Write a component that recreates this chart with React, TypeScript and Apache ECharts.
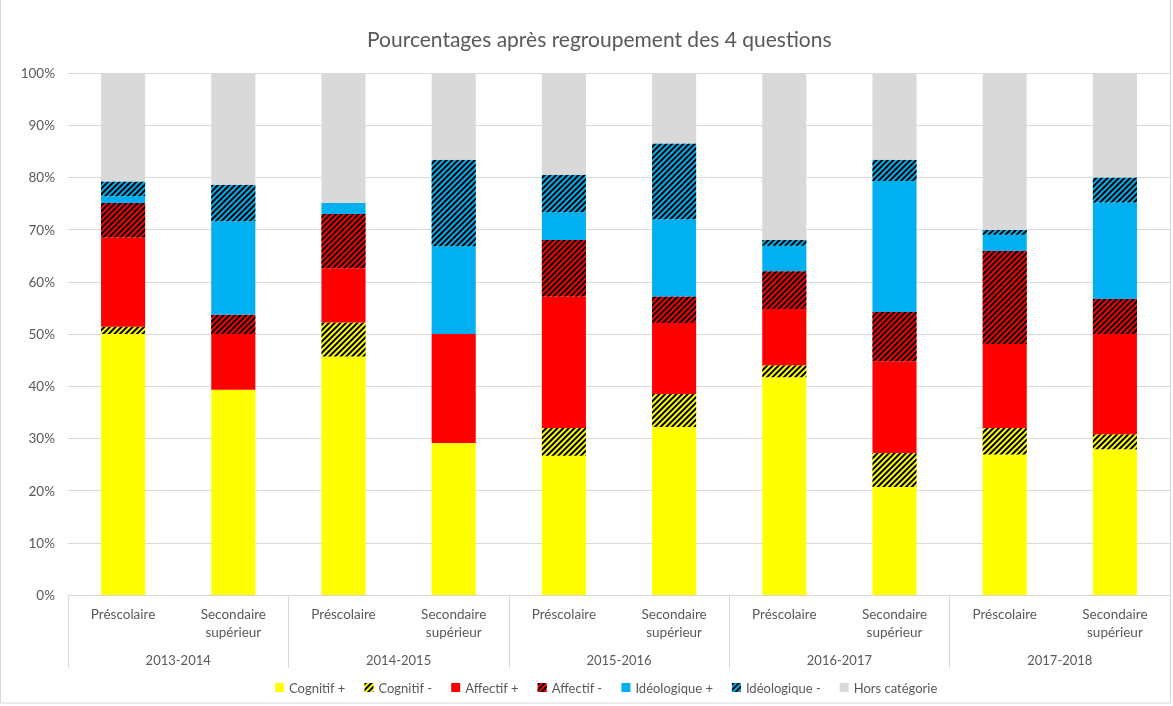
import React, { useEffect, useRef } from "react";
import * as echarts from "echarts";

const levels = ["Préscolaire", "Secondaire\nsupérieur"];
const years = ["2013-2014", "2014-2015", "2015-2016", "2016-2017", "2017-2018"];
const categories = years.flatMap((y) => levels.map((l) => l));

const cognitifPlus = [50.0, 39.3, 45.7, 29.1, 26.7, 32.2, 41.7, 20.7, 26.9, 27.9];
const cognitifMoins = [1.4, 0, 6.5, 0, 5.3, 6.3, 2.3, 6.5, 5.1, 2.9];
const affectifPlus = [17.1, 10.7, 10.4, 20.9, 25.2, 13.6, 10.8, 17.6, 16.1, 19.2];
const affectifMoins = [6.6, 3.7, 10.4, 0, 10.8, 5.1, 7.2, 9.4, 17.8, 6.7];
const ideoPlus = [1.3, 17.9, 2.1, 16.8, 5.3, 14.8, 4.9, 25.1, 3.1, 18.5];
const ideoMoins = [2.8, 7.0, 0, 16.6, 7.2, 14.5, 1.1, 4.1, 0.9, 4.8];
const horsCategorie = [20.8, 21.4, 24.9, 16.6, 19.5, 13.5, 32.0, 16.6, 30.1, 20.0];

const seriesNames = ["Cognitif +", "Cognitif -", "Affectif +", "Affectif -", "Idéologique +", "Idéologique -", "Hors catégorie"];
const seriesData = [cognitifPlus, cognitifMoins, affectifPlus, affectifMoins, ideoPlus, ideoMoins, horsCategorie];
const seriesColors = ["#FFFF00", "#FFFF00", "#FF0000", "#FF0000", "#00B0F0", "#00B0F0", "#D9D9D9"];
const seriesHatched = [false, true, false, true, false, true, false];

const FONT = "Lato, 'Open Sans', sans-serif";
const TXT = "#595959";

export default function App() {
  const ref = useRef<HTMLDivElement>(null);
  useEffect(() => {
    if (!ref.current) return;
    const chart = echarts.init(ref.current, undefined, { renderer: "svg" });
    const hatch = {
      symbol: "rect",
      symbolSize: 1,
      rotation: -Math.PI / 4,
      dashArrayX: [1, 0],
      dashArrayY: [2, 2],
      color: "#000000",
    };
    chart.setOption({
      animation: false,
      textStyle: { fontFamily: FONT },
      title: {
        text: "Pourcentages après regroupement des 4 questions",
        left: 362,
        top: 23,
        textStyle: { fontSize: 21, fontWeight: "normal", color: TXT, fontFamily: FONT },
      },
      legend: {
        bottom: 7,
        left: 270,
        icon: "rect",
        itemWidth: 9,
        itemHeight: 9,
        itemGap: 19,
        textStyle: { fontSize: 13, color: TXT, fontFamily: FONT },
        data: seriesNames,
      },
      graphic: [
        {
          type: "rect",
          shape: { x: 0.5, y: -2, width: 1170, height: 705 },
          style: { fill: "none", stroke: "#D9D9D9", lineWidth: 1 },
          silent: true,
        },
      ],
      grid: { left: 68, right: 3, top: 73, bottom: 111, containLabel: false },
      xAxis: [
        {
          type: "category",
          data: categories,
          position: "bottom",
          axisLine: { show: true, lineStyle: { color: "#D9D9D9" } },
          axisTick: { show: false },
          axisLabel: { color: TXT, fontSize: 13.5, margin: 10, lineHeight: 18, fontFamily: FONT },
        },
        {
          type: "category",
          data: years,
          position: "bottom",
          axisLine: { show: false },
          axisTick: { show: true, length: 73, lineStyle: { color: "#D9D9D9" } },
          axisLabel: { color: TXT, fontSize: 13, margin: 58, fontFamily: FONT },
        },
      ],
      yAxis: {
        type: "value",
        min: 0,
        max: 100,
        interval: 10,
        axisLabel: { formatter: "{value}%", color: TXT, fontSize: 13.5, margin: 13, fontFamily: FONT },
        axisLine: { show: false },
        axisTick: { show: false },
        splitLine: { lineStyle: { color: "#D9D9D9" } },
      },
      series: seriesNames.map((name, i) => ({
        name,
        type: "bar",
        stack: "total",
        xAxisIndex: 0,
        barWidth: "40%",
        data: seriesData[i],
        itemStyle: seriesHatched[i]
          ? { color: seriesColors[i], decal: hatch }
          : { color: seriesColors[i] },
        emphasis: { disabled: true },
      })),
    });
    return () => chart.dispose();
  }, []);
  return <div ref={ref} style={{ position: "fixed", left: 0, top: 0, width: 1173, height: 706 }} />;
}
